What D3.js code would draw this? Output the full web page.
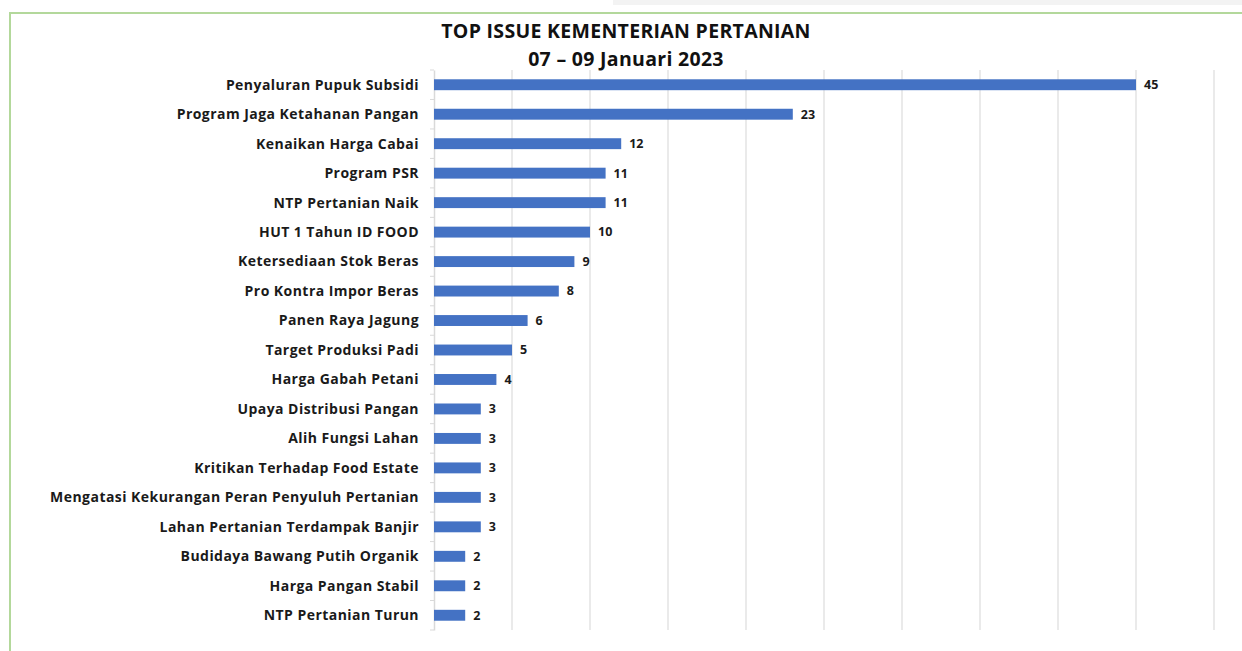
<!DOCTYPE html>
<html>
<head>
<meta charset="utf-8">
<script src="https://cdn.jsdelivr.net/npm/d3@7/dist/d3.min.js"></script>
<style>
  body { margin: 0; background: #fff; }
  svg { display: block; font-family: "Open Sans", Lato, sans-serif; }
</style>
</head>
<body>
<svg id="chart" width="1242" height="651"></svg>
<script>
// data
var categories = [
  "Penyaluran Pupuk Subsidi",
  "Program Jaga Ketahanan Pangan",
  "Kenaikan Harga Cabai",
  "Program PSR",
  "NTP Pertanian Naik",
  "HUT 1 Tahun ID FOOD",
  "Ketersediaan Stok Beras",
  "Pro Kontra Impor Beras",
  "Panen Raya Jagung",
  "Target Produksi Padi",
  "Harga Gabah Petani",
  "Upaya Distribusi Pangan",
  "Alih Fungsi Lahan",
  "Kritikan Terhadap Food Estate",
  "Mengatasi Kekurangan Peran Penyuluh Pertanian",
  "Lahan Pertanian Terdampak Banjir",
  "Budidaya Bawang Putih Organik",
  "Harga Pangan Stabil",
  "NTP Pertanian Turun"
];
var values = [45, 23, 12, 11, 11, 10, 9, 8, 6, 5, 4, 3, 3, 3, 3, 3, 2, 2, 2];
var xTicks = [0, 5, 10, 15, 20, 25, 30, 35, 40, 45, 50];
var titleLines = ["TOP ISSUE KEMENTERIAN PERTANIAN", "07 \u2013 09 Januari 2023"];

var svg = d3.select("#chart");

// frame bits around the screenshot
svg.append("rect")
  .attr("x", 613).attr("y", 0)
  .attr("width", 629).attr("height", 5)
  .attr("fill", "#f3f3f3");
svg.append("path")
  .attr("d", "M 1242 13 H 10 V 651")
  .attr("fill", "none")
  .attr("stroke", "#b3d89b")
  .attr("stroke-width", 2);

var plot = { left: 434, right: 1214, top: 70, bottom: 630 };

var x = d3.scaleLinear().domain([0, 50]).range([plot.left, plot.right]);
var y = d3.scaleBand().domain(categories).range([plot.top, plot.bottom]).paddingInner(0.63).paddingOuter(0.315);

// gridlines
svg.append("g")
  .selectAll("line")
  .data(xTicks.slice(1))
  .join("line")
  .attr("x1", function (d) { return x(d); })
  .attr("x2", function (d) { return x(d); })
  .attr("y1", plot.top)
  .attr("y2", plot.bottom)
  .attr("stroke", "#e3e3e3")
  .attr("stroke-width", 1.5);

// category axis
var yAxis = d3.axisLeft(y).tickSize(0).tickFormat("");
var gy = svg.append("g").attr("transform", "translate(" + plot.left + ",0)").call(yAxis);
gy.select(".domain").attr("stroke", "#d9d9d9").attr("stroke-width", 1.5);
// tick marks between categories
var step = y.step();
gy.selectAll("line.sep")
  .data(d3.range(categories.length + 1))
  .join("line")
  .attr("class", "sep")
  .attr("x1", -4).attr("x2", 0)
  .attr("y1", function (i) { return plot.top + i * step; })
  .attr("y2", function (i) { return plot.top + i * step; })
  .attr("stroke", "#d9d9d9");

// labels
svg.append("g")
  .selectAll("text")
  .data(categories)
  .join("text")
  .attr("x", 419)
  .attr("y", function (d) { return y(d) + y.bandwidth() / 2; })
  .attr("dy", "0.35em")
  .attr("text-anchor", "end")
  .attr("font-size", 14)
  .attr("letter-spacing", 0.45)
  .attr("font-weight", "bold")
  .attr("fill", "#1a1a1a")
  .text(function (d) { return d; });

// bars
svg.append("g")
  .selectAll("rect")
  .data(values)
  .join("rect")
  .attr("x", x(0))
  .attr("y", function (d, i) { return y(categories[i]); })
  .attr("width", function (d) { return x(d) - x(0); })
  .attr("height", y.bandwidth())
  .attr("fill", "#4472c4");

// value labels
svg.append("g")
  .selectAll("text")
  .data(values)
  .join("text")
  .attr("x", function (d) { return x(d) + 8; })
  .attr("y", function (d, i) { return y(categories[i]) + y.bandwidth() / 2; })
  .attr("dy", "0.35em")
  .attr("font-size", 12.5)
  .attr("font-weight", "bold")
  .attr("fill", "#1a1a1a")
  .text(function (d) { return d; });

// title
svg.append("g")
  .selectAll("text")
  .data(titleLines)
  .join("text")
  .attr("x", 626)
  .attr("y", function (d, i) { return 38 + i * 28; })
  .attr("text-anchor", "middle")
  .attr("font-size", 19.5)
  .attr("letter-spacing", 0.3)
  .attr("font-weight", "bold")
  .attr("fill", "#111")
  .text(function (d) { return d; });
</script>
</body>
</html>
